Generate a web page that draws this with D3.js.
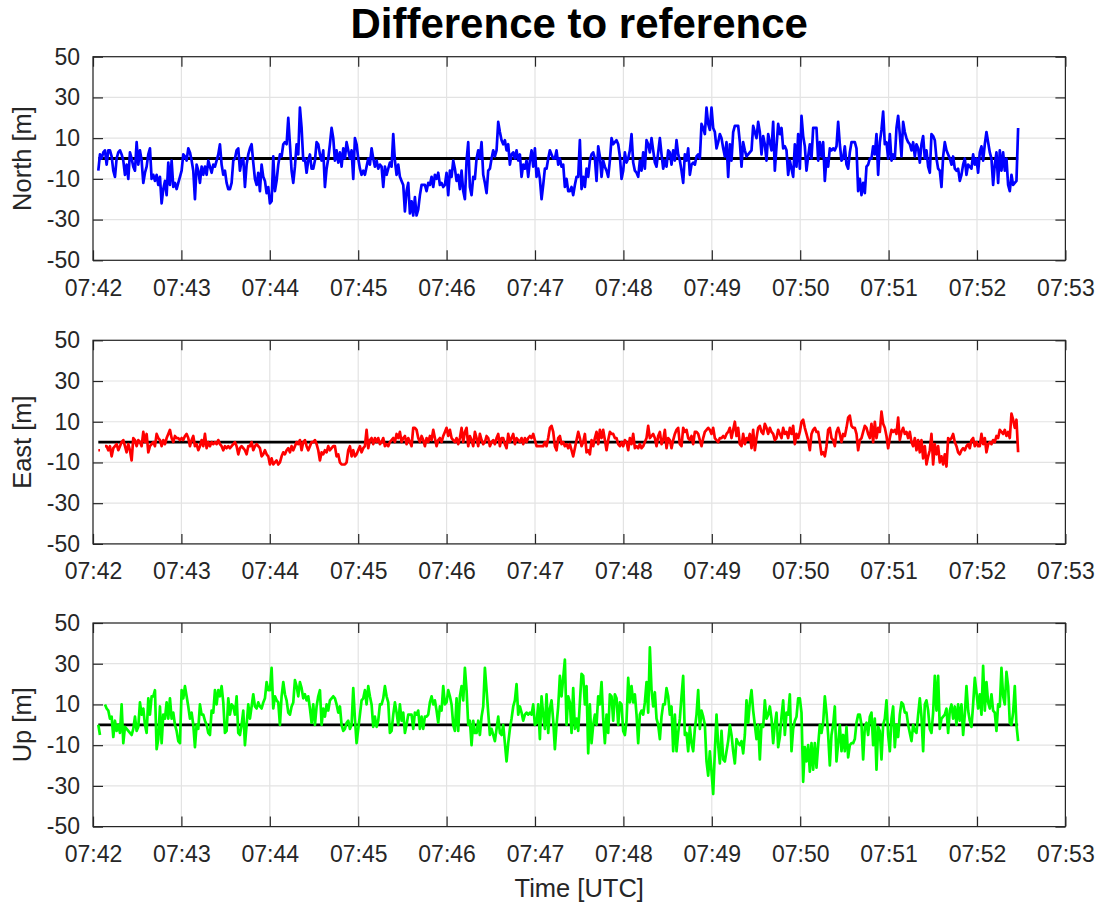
<!DOCTYPE html>
<html>
<head>
<meta charset="utf-8">
<script src="https://cdn.jsdelivr.net/npm/d3@7"></script>
<style>
  html, body { margin: 0; padding: 0; background: #ffffff; }
  svg { display: block; font-family: "Liberation Sans", Arial, Helvetica, sans-serif; }
</style>
</head>
<body>
<svg id="chart" width="1099" height="906"></svg>
<script>
// ---- data -------------------------------------------------------------
const startTime = "07:42:03.6";   // first sample
const sampleStep = 1.131;         // seconds between samples
const axisStart = "07:42";
const axisEnd = "07:53";
const yTicks = [50, 30, 10, -10, -30, -50];
const referenceValue = 0;

const northValues = [
  -6, 2, 0, 3, 4, -3, 4, 4, 1, -6,
  -9, 0, 3, 4, 2, -1, -8, -3, -10, 3,
  0, -4, -6, 8, -3, 4, -1, -12, -7, -4,
  2, 5, -10, -8, -11, -8, -13, -9, -22, -15,
  -11, -18, -2, -13, -1, -14, -12, -15, -12, -9,
  -6, 2, 1, -1, 5, 3, -1, -6, -20, -3,
  -6, -12, -4, -8, -4, -8, -1, -4, -7, -3,
  -4, -1, 2, 7, -3, -8, -6, -12, -15, -15,
  -12, -1, 0, 4, 5, -6, -1, 0, -14, -3,
  2, 5, 7, -2, -10, -13, -7, -16, -3, -9,
  -11, -17, -14, -22, -21, 1, -16, -11, -3, 2,
  1, 7, 8, 7, 20, 7, -6, -12, -4, 7,
  2, 25, 15, -1, 0, -7, -1, 2, -5, -5,
  -1, 8, 7, 2, -1, 4, -14, -5, 0, 7,
  15, 10,
  -1, 4, -2, 3, -4, 5, 0, 8, 4, 0,
  4, -10, 10, 7, 0, -5, -8, -6, -8, -4,
  0, -3, 5, 0, -4, -1, -5, -3, -4, -14,
  -4, -8, -5, -2, -4, 12, -1, -8, -3, -9,
  -11, -13, -26, -16, -12, -27, -21, -28, -19, -28,
  -25, -18, -13, -13, -13, -16, -12, -13, -9, -14,
  -8, -10, -7, -13, -12, -14, -13, -7, -18, -6,
  -9, -1, -5, -11, -8, -15, -6, -16, -20, -1,
  8, -14, -18, -9, -10, 0, 4, 0, 8, -8,
  -12, -17, -6, -5, 0, 4, 1, 4, 18, 13,
  9, 7, 9, 4, 7, -3, 2, 3, 0, 4,
  -1, 2, -9, -3, -5, -1, -9, -1, 4, -4,
  5, -9, -5, -10, -20, -13, -5, -5, 0, 4,
  2, 0, 0, 4, -3, 0, -4, -3, -14, -10,
  -16,
  -16, -14, -18, -13, -9, -9, 9, -15, -9, -14,
  -5, -9, -1, 2, 3, 0, -11, 6, 1, -9,
  -1, -4, -6, -9, -1, 10, 7, 8, 9, 7,
  1, -10, -6, 3, -2, 0, 4, 12, -2, -6,
  -7, -9, -1, -6, 3, -5, 9, 7, 3, 10,
  4, -2, -4, 3, 10, 2, -5, -1, -4, 4,
  3, -3, 4, -1, 9, 2, -1, -6, -12, 2,
  -1, 5, -8, -3, -2, -3, 1, 2, 0, 17,
  15, 12, 25, 17, 14, 25, 15, 13, 5, 8,
  12, 10, 5, 1, 8, -9, 7, -1, 13, 16,
  16, 16, 8, -4, 8, 4, 1, 2, 3, 4,
  16, 13, 10, 18, 13, 2, 11, 7, -1, 12,
  8, 4, 18, -6, 6, 17, 12, 15, 5, 6,
  4, -8, -1, -5, -9, 7, -4, 12, -5, 21,
  11,
  6, -6, 1, 7, 0, 15, 15, 15, -1, 8,
  1, 8, -11, 0, -4, 5, 4, 5, 4, 6,
  18, 7, -1, 0, 6, -3, -5, 3, 8, 8,
  8, 5, -16, -10, -18, -12, -17, -4, -3, 0,
  0, 6, 2, 12, -8, 8, 14, 23, 7, 8,
  0, 12, -1, 2, 0, 15, 21, 12, 1, 18,
  13, 10, 8, 7, 4, 8, 1, 7, 5, -2,
  7, 11, 0, 4, -4, -7, 12, 11, 9, 0,
  -5, -6, -14, 1, 8, 4, 2, 0, -3, 1,
  -5, -6, -5, -11, -8, -3, 0, -8, -3, -4,
  -5, 2, -3, 0, -7, 3, 6, -1, 7, 13,
  8, 3, 0, -13, -3, 3, -12, 4, -6, 3,
  -6, 0, -13, -16, -8, -13, -12, -11, 15
];

const eastValues = [
  -4, -4, null, null, -2, -2, -4, -2, -7, -3,
  -2, -1, -4, -2, 0, 1, -2, -5, -1, -4,
  -9, 2, 1, -2, 1, 0, -2, 5, 0, 4,
  -5, -2, -1, 0, -2, 4, 2, 1, -2, 1,
  -1, 2, 4, 6, 2, 0, 3, 2, 2, 1,
  2, 1, 3, 4, 2, -2, 1, 3, -2, -1,
  -4, -2, 1, -2, 4, -3, 0, -2, 0, -1,
  0, -1, 1, -1, -2, -4, -2, -3, -2, -3,
  -2, -1, 0, -2, -6, -3, -2, -3, -4, -6,
  -2, -2, 0, -4, -2, -1, -2, -3, -7, -6,
  -4, -6, -7, -11, -8, -11, -10, -9, -11, -10,
  -7, -5, -6, -4, -3, -5, -2, -4, -2, 0,
  -1, 1, -4, 0, 1, -2, -4, -2, 0, 0,
  1, -1, -4, -9, -5, -6, -4, -5, -2, -4,
  -3, -2,
  -2, -7, -6, -10, -11, -11, -11, -10, -4, -2,
  -7, -4, -7, -6, -4, -2, -5, -3, -2, 6,
  -3, 1, 2, -1, 2, 0, 2, -1, 0, 2,
  -2, -1, -2, 0, 1, 2, 0, 4, 2, 5,
  0, 2, 3, -1, 2, 0, -2, 7, 7, 6,
  2, 0, 3, 1, -2, 2, 0, 3, 1, 6,
  2, -2, 1, 2, 0, 3, 5, 7, 3, 6,
  2, 1, 0, 2, -1, 2, 7, 0, 5, 7,
  -2, 3, 1, -2, 5, 2, -2, 4, 1, -1,
  0, 3, 2, -2, 0, 1, -1, 2, 4, -2,
  2, 2, -1, -3, 4, 0, 2, 4, -1, 2,
  1, 0, 2, -1, 2, 0, 2, 3, 2, 4,
  1, -2, -2, -2, -2, -2, 0, -2, 2, 7,
  8, 5, -2, -4, 2, 3, -1, 0, -2, -1,
  -3,
  -1, -4, -7, -3, 1, 5, 2, -2, 0, 4,
  -5, -4, -6, 1, -2, 2, 5, -1, 6, 2,
  6, 1, -4, 1, 5, 4, 4, 2, 2, -1,
  -2, 0, -2, 1, 0, -4, 2, -1, 4, -3,
  -2, -3, -1, -3, -2, 0, 2, 8, 2, 3,
  4, 2, -2, 3, 5, -1, 1, 6, -3, 2,
  1, -3, 1, 4, 6, 7, -1, -2, 7, 5,
  6, 2, 1, 3, -1, 5, 5, 4, 1, -2,
  2, 5, 6, 7, 6, 4, 7, 2, 1, 0,
  2, 2, 3, 2, 4, 5, 7, 2, 6, 10,
  3, 7, -1, -2, 4, -1, 2, 1, 4, -3,
  6, -4, 2, 7, 8, 5, 4, 9, 7, 4,
  7, 5, 4, 1, 2, 6, 4, 2, 7, 4,
  5, 2, 7, 4, 8, -1, 4, 2, 5, 10,
  11,
  7, 4, 1, -4, 4, 6, 7, 5, 5, 0,
  -6, -5, -7, -2, 6, 7, 2, 1, -2, 5,
  7, 4, 0, 4, 3, 7, 12, 13, 8, 7,
  7, 4, -4, 1, 2, 5, 8, 7, 4, 2,
  9, 0, 10, 2, 7, 5, 15, 9, 7, 3,
  -3, 2, 6, 5, 6, 4, 12, 1, 5, 7,
  4, 5, 2, 5, 0, -2, 2, -4, 1, -5,
  1, -8, -2, -11, -7, -4, 4, -11, -1, -6,
  -2, -10, -7, -11, -6, -12, 2, 1, 2, 4,
  0, -2, -5, -6, -4, -3, -4, -2, -1, -3,
  1, 2, -2, 0, -2, -2, 4, -1, 2, -5,
  -1, 0, -1, 1, 0, 3, 2, 6, 5, 4,
  6, 3, 5, 2, 14, 11, 7, 11, -5
];

const upValues = [
  0, -5, null, null, 10, 8, 7, 3, 4, -6,
  2, -3, 0, -4, 10, -9, -1, -2, -3, -4,
  -5, -2, 4, -3, -1, 11, 5, 8, 0, -4,
  13, 5, 14, 14, 17, -12, -7, 9, -9, 5,
  3, 11, 3, 13, 3, 6, 0, -3, -8, -9,
  17, 13, 19, 14, 9, 3, 6, 0, -11, 0,
  -2, 10, 5, 5, 2, 0, -4, -5, 7, 6,
  17, 10, 17, 14, 19, 11, -4, -3, 13, 5,
  10, 9, 5, 14, -4, -5, 0, 7, -10, 0,
  10, 3, 9, 15, 9, 8, 11, 9, 8, 11,
  13, 21, 17, 17, 28, 8, 14, 12, 11, 0,
  14, 21, 15, 12, 6, 5, 9, 11, 22, 19,
  14, 21, 18, 13, 15, 12, 14, 8, 1, 10,
  0, 9, 14, 17, 0, 8, 4, 10, 7, 12,
  13, 14,
  13, 10, 6, 9, 0, -3, -2, 1, 2, -2,
  0, 18, 3, -9, -2, 5, 12, 13, 17, 10,
  19, 14, 10, -1, 4, -1, 2, 10, 10, 13,
  19, 14, 11, -4, -3, 5, 11, 6, 0, 10,
  2, 6, -4, 0, 5, 5, 5, -2, 6, 5,
  7, -2, 4, -2, 4, 4, 5, 11, 14, 10,
  12, 7, 1, 9, 7, 19, 10, 11, 17, 14,
  10, 0, -3, 13, -3, 14, 19, 12, 28, 17,
  0, 2, -10, 2, -4, -4, 2, -5, 4, 9,
  28, 17, 6, -5, -2, -5, -8, -2, 4, -4,
  -5, 0, -9, -18, -9, -2, 3, 9, 12, 20,
  5, 9, 6, 2, 5, 6, 5, 6, 5, 10,
  0, 1, 10, -7, 14, 5, -2, 15, -4, 8,
  12, 2, -12, 0, 9, 24, 14, 23, 32, 0,
  14,
  11, -4, 18, -2, 3, -3, 11, 25, 24, 10,
  19, -14, 10, -9, 0, 5, 0, 14, 10, 21,
  3, -9, 5, -4, 15, 14, 2, 15, 13, 0,
  11, 10, -3, -5, 2, 23, 11, 19, 11, 15,
  5, -9, 5, 7, 5, 11, 21, 6, 38, 17,
  9, 16, 3, 0, -7, 4, 10, 10, 18, 14,
  5, 9, -13, 5, -13, -4, 3, 14, 24, -5,
  -4, -13, -1, -9, -13, -2, 5, 17, -2, 7,
  4, 0, -18, -25, -13, -23, -34, -13, 5, -10,
  -19, -3, -17, -18, -13, -8, 0, -5, -13, -19,
  -7, -9, -10, -8, -14, -5, 12, 1, 11, 17,
  7, 0, -7, 0, -17, 0, -1, 12, 3, 5,
  9, 3, -9, 0, 6, -11, -6, 4, 12, -5,
  6, 5, 15, -13, -2, 2, 4, 13, 13, 6,
  -28,
  -11, -18, -10, -23, -9, -22, -9, -21, -10, 0,
  -4, 1, 14, 6, -5, -20, -5, 0, 9, -18,
  -9, 0, -13, -5, -13, -1, -16, -10, -9, -9,
  -7, 1, 5, 5, 0, -17, -1, 1, -5, 4,
  6, -10, 3, -22, -1, -3, -17, 0, 3, 12,
  -5, -13, 3, 9, -11, 0, -6, 5, 11, 10,
  6, 6, 0, -4, -8, 0, -3, -4, 5, 13,
  4, -13, 10, 12, 7, -2, -4, 6, 24, 7,
  24, -2, 3, 4, 5, 8, -4, 7, 10, 3,
  9, 0, 10, 2, 10, -5, 5, 19, 7, 2,
  -1, 10, 23, 16, 8, 15, 5, 29, 7, 21,
  11, 8, 15, 7, 6, -3, 10, 9, 28, 14,
  10, 26, 19, 1, 0, 6, 19, 0, -8
];

// ---- helpers ----------------------------------------------------------
function toSeconds(s) {
  const p = s.split(":").map(Number);
  return p[0] * 3600 + p[1] * 60 + (p[2] || 0);
}
function formatClock(sec) {
  const h = Math.floor(sec / 3600), m = Math.floor((sec % 3600) / 60);
  return String(h).padStart(2, "0") + ":" + String(m).padStart(2, "0");
}

const t0 = toSeconds(startTime);
const xMin = toSeconds(axisStart), xMax = toSeconds(axisEnd);
const xTickValues = d3.range(xMin, xMax + 1, 60);

const panels = [
  { values: northValues, label: "North [m]", color: "#0000ff", top: 56.7 },
  { values: eastValues,  label: "East [m]",  color: "#ff0000", top: 340.3 },
  { values: upValues,    label: "Up [m]",    color: "#00ff00", top: 623.0 }
];

// ---- layout -----------------------------------------------------------
const svg = d3.select("#chart");
const plotLeft = 93, plotRight = 1065.4, plotHeight = 203.6;
const axisColor = "#262626", gridColor = "#e3e3e3";
const tickFont = 23, labelFont = 25.5;

const x = d3.scaleLinear().domain([xMin, xMax]).range([plotLeft, plotRight]);

svg.append("text")
  .attr("x", (plotLeft + plotRight) / 2)
  .attr("y", 38)
  .attr("text-anchor", "middle")
  .attr("font-weight", "bold")
  .attr("font-size", 42)
  .attr("fill", "#000")
  .text("Difference to reference");

panels.forEach(p => {
  const y = d3.scaleLinear().domain([-50, 50]).range([p.top + plotHeight, p.top]);
  const g = svg.append("g");
  const series = p.values.map((v, i) => ({ t: t0 + i * sampleStep, v }));
  const tEnd = series[series.length - 1].t;

  // grid
  g.append("g").selectAll("line").data(xTickValues).join("line")
    .attr("x1", d => x(d)).attr("x2", d => x(d))
    .attr("y1", p.top).attr("y2", p.top + plotHeight)
    .attr("stroke", gridColor).attr("stroke-width", 1.2);
  g.append("g").selectAll("line").data(yTicks).join("line")
    .attr("x1", plotLeft).attr("x2", plotRight)
    .attr("y1", d => y(d)).attr("y2", d => y(d))
    .attr("stroke", gridColor).attr("stroke-width", 1.2);

  // reference line
  const line = d3.line().defined(d => d.v !== null).x(d => x(d.t)).y(d => y(d.v));
  g.append("path")
    .datum([{ t: t0, v: referenceValue }, { t: tEnd, v: referenceValue }])
    .attr("d", line)
    .attr("fill", "none").attr("stroke", "#000").attr("stroke-width", 2.8);

  // measured differences
  g.append("path")
    .datum(series)
    .attr("d", line)
    .attr("fill", "none")
    .attr("stroke", p.color)
    .attr("stroke-width", 2.7)
    .attr("stroke-linejoin", "round");

  // axes (inward ticks on all four sides)
  const styleAxis = sel => {
    sel.select(".domain").remove();
    sel.selectAll(".tick line").attr("stroke", axisColor).attr("stroke-width", 1.2);
    sel.selectAll(".tick text").attr("fill", axisColor).attr("font-size", tickFont)
      .attr("font-family", "\"Liberation Sans\", Arial, Helvetica, sans-serif");
  };
  g.append("g").attr("transform", `translate(${plotLeft},0)`)
    .call(d3.axisLeft(y).tickValues(yTicks).tickSizeInner(-10).tickSizeOuter(0)
      .tickPadding(13).tickFormat(d => String(d)))
    .call(styleAxis);
  g.append("g").attr("transform", `translate(${plotRight},0)`)
    .call(d3.axisRight(y).tickValues(yTicks).tickSizeInner(-10).tickSizeOuter(0).tickFormat(""))
    .call(styleAxis);
  g.append("g").attr("transform", `translate(0,${p.top + plotHeight})`)
    .call(d3.axisBottom(x).tickValues(xTickValues).tickSizeInner(-10).tickSizeOuter(0)
      .tickPadding(19).tickFormat(formatClock))
    .call(styleAxis);
  g.append("g").attr("transform", `translate(0,${p.top})`)
    .call(d3.axisTop(x).tickValues(xTickValues).tickSizeInner(-10).tickSizeOuter(0).tickFormat(""))
    .call(styleAxis);

  // box
  g.append("rect")
    .attr("x", plotLeft).attr("y", p.top)
    .attr("width", plotRight - plotLeft).attr("height", plotHeight)
    .attr("fill", "none").attr("stroke", axisColor).attr("stroke-width", 1.2);

  // y label
  g.append("text")
    .attr("transform", `translate(31,${p.top + plotHeight / 2}) rotate(-90)`)
    .attr("text-anchor", "middle")
    .attr("font-size", labelFont)
    .attr("fill", axisColor)
    .text(p.label);
});

svg.append("text")
  .attr("x", (plotLeft + plotRight) / 2)
  .attr("y", 897)
  .attr("text-anchor", "middle")
  .attr("font-size", labelFont)
  .attr("fill", axisColor)
  .text("Time [UTC]");
</script>
</body>
</html>
